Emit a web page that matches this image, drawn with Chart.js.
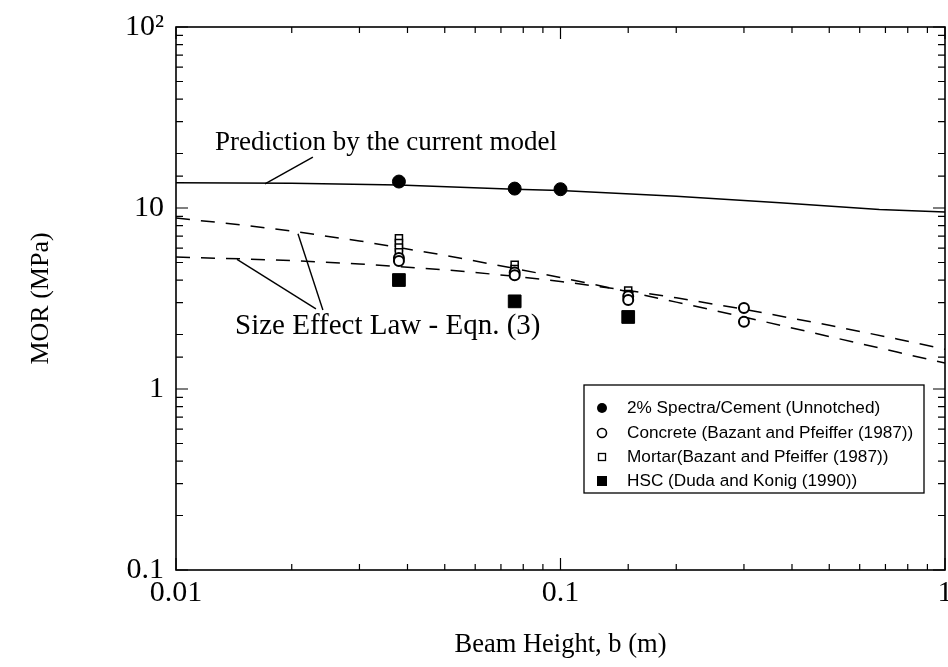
<!DOCTYPE html>
<html>
<head>
<meta charset="utf-8">
<script src="https://cdn.jsdelivr.net/npm/chart.js@4"></script>
<style>
html,body{margin:0;padding:0;background:#fff;}
#wrap{width:948px;height:667px;}
</style>
</head>
<body>
<div id="wrap"><canvas id="c" width="948" height="667"></canvas></div>
<script>
// ---- data ----
const xTickLabels = {0.01: '0.01', 0.1: '0.1', 1: '1'};
const yTickLabels = {0.1: '0.1', 1: '1', 10: '10', 100: '10\u00B2'};

const modelX = [0.01, 0.02, 0.038, 0.076, 0.1, 0.2, 0.372, 0.675, 1];
const modelY = [13.8, 13.7, 13.4, 12.7, 12.5, 11.6, 10.7, 9.8, 9.5];

const selX = [0.01, 0.015, 0.02, 0.03, 0.05, 0.075, 0.1, 0.15, 0.2, 0.3, 0.5, 0.75, 1];
const selSteepY = [8.8, 8.04, 7.45, 6.58, 5.48, 4.66, 4.13, 3.45, 3.02, 2.5, 1.95, 1.6, 1.39];
const selFlatY  = [5.36, 5.23, 5.12, 4.91, 4.56, 4.21, 3.93, 3.5, 3.19, 2.76, 2.25, 1.89, 1.66];

const spectraX = [0.038, 0.076, 0.1];
const spectraY = [14.0, 12.8, 12.7];

const concreteX = [0.038, 0.038, 0.076, 0.076, 0.15, 0.15, 0.3, 0.3];
const concreteY = [5.3, 5.1, 4.4, 4.25, 3.25, 3.1, 2.8, 2.35];

const mortarX = [0.038, 0.038, 0.038, 0.038, 0.076, 0.076, 0.15, 0.15];
const mortarY = [6.8, 6.4, 6.05, 5.7, 4.85, 4.6, 3.5, 3.35];

const hscX = [0.038, 0.076, 0.15];
const hscY = [4.0, 3.05, 2.5];

const legendLabels = [
  '2% Spectra/Cement (Unnotched)',
  'Concrete (Bazant and Pfeiffer (1987))',
  'Mortar(Bazant and Pfeiffer (1987))',
  'HSC (Duda and Konig (1990))'
];

const predictionText = 'Prediction by the current model';
const predictionTextAt = [0.01263, 22.9];
const predictionLeader = [[0.0227, 19.1], [0.01704, 13.6]];
const sizeText = 'Size Effect Law - Eqn. (3)';
const sizeTextAt = [0.01424, 2.23];
const sizeLeaders = [[[0.0241, 2.73], [0.02076, 7.2]], [[0.02312, 2.77], [0.01441, 5.2]]];

// ---- helpers ----
const pts = (xs, ys) => xs.map((x, i) => ({x: x, y: ys[i]}));
const SERIF = '"Liberation Serif", "Times New Roman", serif';
const SANS = '"Liberation Sans", Arial, sans-serif';

const frameAndExtras = {
  id: 'frameAndExtras',
  afterDatasetsDraw(chart) {
    const ctx = chart.ctx;
    const a = chart.chartArea;
    const xs = chart.scales.x, ys = chart.scales.y;
    ctx.save();
    ctx.strokeStyle = '#000';
    ctx.fillStyle = '#000';
    // frame
    ctx.lineWidth = 1.6;
    ctx.strokeRect(a.left, a.top, a.right - a.left, a.bottom - a.top);
    // inward ticks
    ctx.lineWidth = 1.2;
    const isMajor = v => Math.abs(Math.log10(v) - Math.round(Math.log10(v))) < 1e-6;
    xs.ticks.forEach(t => {
      const px = xs.getPixelForValue(t.value);
      if (px < a.left - 0.5 || px > a.right + 0.5) return;
      const L = isMajor(t.value) ? 12 : 6;
      ctx.beginPath();
      ctx.moveTo(px, a.bottom); ctx.lineTo(px, a.bottom - L);
      ctx.moveTo(px, a.top); ctx.lineTo(px, a.top + L);
      ctx.stroke();
    });
    ys.ticks.forEach(t => {
      const py = ys.getPixelForValue(t.value);
      if (py < a.top - 0.5 || py > a.bottom + 0.5) return;
      const L = isMajor(t.value) ? 12 : 7;
      ctx.beginPath();
      ctx.moveTo(a.left, py); ctx.lineTo(a.left + L, py);
      ctx.moveTo(a.right, py); ctx.lineTo(a.right - L, py);
      ctx.stroke();
    });
    // annotations
    const P = p => [xs.getPixelForValue(p[0]), ys.getPixelForValue(p[1])];
    ctx.lineWidth = 1.4;
    const line = (p, q) => { const A = P(p), B = P(q); ctx.beginPath(); ctx.moveTo(A[0], A[1]); ctx.lineTo(B[0], B[1]); ctx.stroke(); };
    line(predictionLeader[0], predictionLeader[1]);
    sizeLeaders.forEach(l => line(l[0], l[1]));
    ctx.textBaseline = 'middle';
    ctx.textAlign = 'left';
    let T = P(predictionTextAt);
    ctx.font = '27px ' + SERIF;
    ctx.fillText(predictionText, T[0], T[1]);
    T = P(sizeTextAt);
    ctx.font = '29px ' + SERIF;
    ctx.fillText(sizeText, T[0], T[1]);
    // legend box
    const bx = 584, by = 385, bw = 340, bh = 108;
    ctx.fillStyle = '#fff';
    ctx.fillRect(bx, by, bw, bh);
    ctx.lineWidth = 1.3;
    ctx.strokeRect(bx, by, bw, bh);
    ctx.fillStyle = '#000';
    ctx.font = '17.2px ' + SANS;
    const rowY = [408, 433, 457, 481];
    const mx = 602, tx = 627;
    legendLabels.forEach((lab, i) => {
      const y = rowY[i];
      ctx.fillText(lab, tx, y);
      ctx.beginPath();
      if (i === 0) { ctx.arc(mx, y, 5, 0, Math.PI * 2); ctx.fill(); }
      else if (i === 1) { ctx.lineWidth = 1.6; ctx.arc(mx, y, 4.5, 0, Math.PI * 2); ctx.stroke(); }
      else if (i === 2) { ctx.lineWidth = 1.3; ctx.strokeRect(mx - 3.5, y - 3.5, 7, 7); }
      else { ctx.fillRect(mx - 5, y - 5, 10, 10); }
    });
    ctx.restore();
  }
};

new Chart(document.getElementById('c'), {
  type: 'scatter',
  data: {
    datasets: [
      {label: 'Prediction by the current model', data: pts(modelX, modelY), showLine: true, borderColor: '#000', borderWidth: 1.5, pointRadius: 0, fill: false, order: 5},
      {label: 'Size Effect Law (a)', data: pts(selX, selSteepY), showLine: true, borderColor: '#000', borderWidth: 1.5, borderDash: [14, 11], pointRadius: 0, fill: false, order: 5},
      {label: 'Size Effect Law (b)', data: pts(selX, selFlatY), showLine: true, borderColor: '#000', borderWidth: 1.5, borderDash: [14, 11], pointRadius: 0, fill: false, order: 5},
      {label: legendLabels[0], data: pts(spectraX, spectraY), pointStyle: 'circle', pointRadius: 6.5, backgroundColor: '#000', borderColor: '#000', borderWidth: 1, order: 1},
      {label: legendLabels[1], data: pts(concreteX, concreteY), pointStyle: 'circle', pointRadius: 5, backgroundColor: '#fff', borderColor: '#000', borderWidth: 2, order: 2},
      {label: legendLabels[2], data: pts(mortarX, mortarY), pointStyle: 'rect', pointRadius: 5, backgroundColor: '#fff', borderColor: '#000', borderWidth: 1.5, order: 3},
      {label: legendLabels[3], data: pts(hscX, hscY), pointStyle: 'rect', pointRadius: 9, backgroundColor: '#000', borderColor: '#000', borderWidth: 1, order: 4}
    ]
  },
  options: {
    responsive: false,
    animation: false,
    events: [],
    layout: {autoPadding: false, padding: {left: 0, top: 27, right: 3, bottom: 0}},
    plugins: {legend: {display: false}, tooltip: {enabled: false}, title: {display: false}},
    scales: {
      x: {
        type: 'logarithmic', min: 0.01, max: 1,
        grid: {display: false, drawTicks: false},
        border: {display: false},
        ticks: {
          autoSkip: false, maxRotation: 0, padding: 5, color: '#000',
          font: {family: SERIF, size: 30},
          callback: v => xTickLabels[v] || ''
        },
        title: {display: true, text: 'Beam Height, b (m)', color: '#000', font: {family: SERIF, size: 26.5}, padding: {top: 0, bottom: 6}},
        afterFit: s => { s.height = 97; s.paddingLeft = 0; s.paddingRight = 0; }
      },
      y: {
        type: 'logarithmic', min: 0.1, max: 100,
        grid: {display: false, drawTicks: false},
        border: {display: false},
        ticks: {
          autoSkip: false, padding: 12, color: '#000',
          font: {family: SERIF, size: 30},
          callback: v => yTickLabels[v] || ''
        },
        title: {display: true, text: 'MOR (MPa)', color: '#000', font: {family: SERIF, size: 26}, padding: {top: 26, bottom: 0}},
        afterFit: s => { s.width = 176; s.paddingTop = 0; s.paddingBottom = 0; }
      }
    }
  },
  plugins: [frameAndExtras]
});
</script>
</body>
</html>
